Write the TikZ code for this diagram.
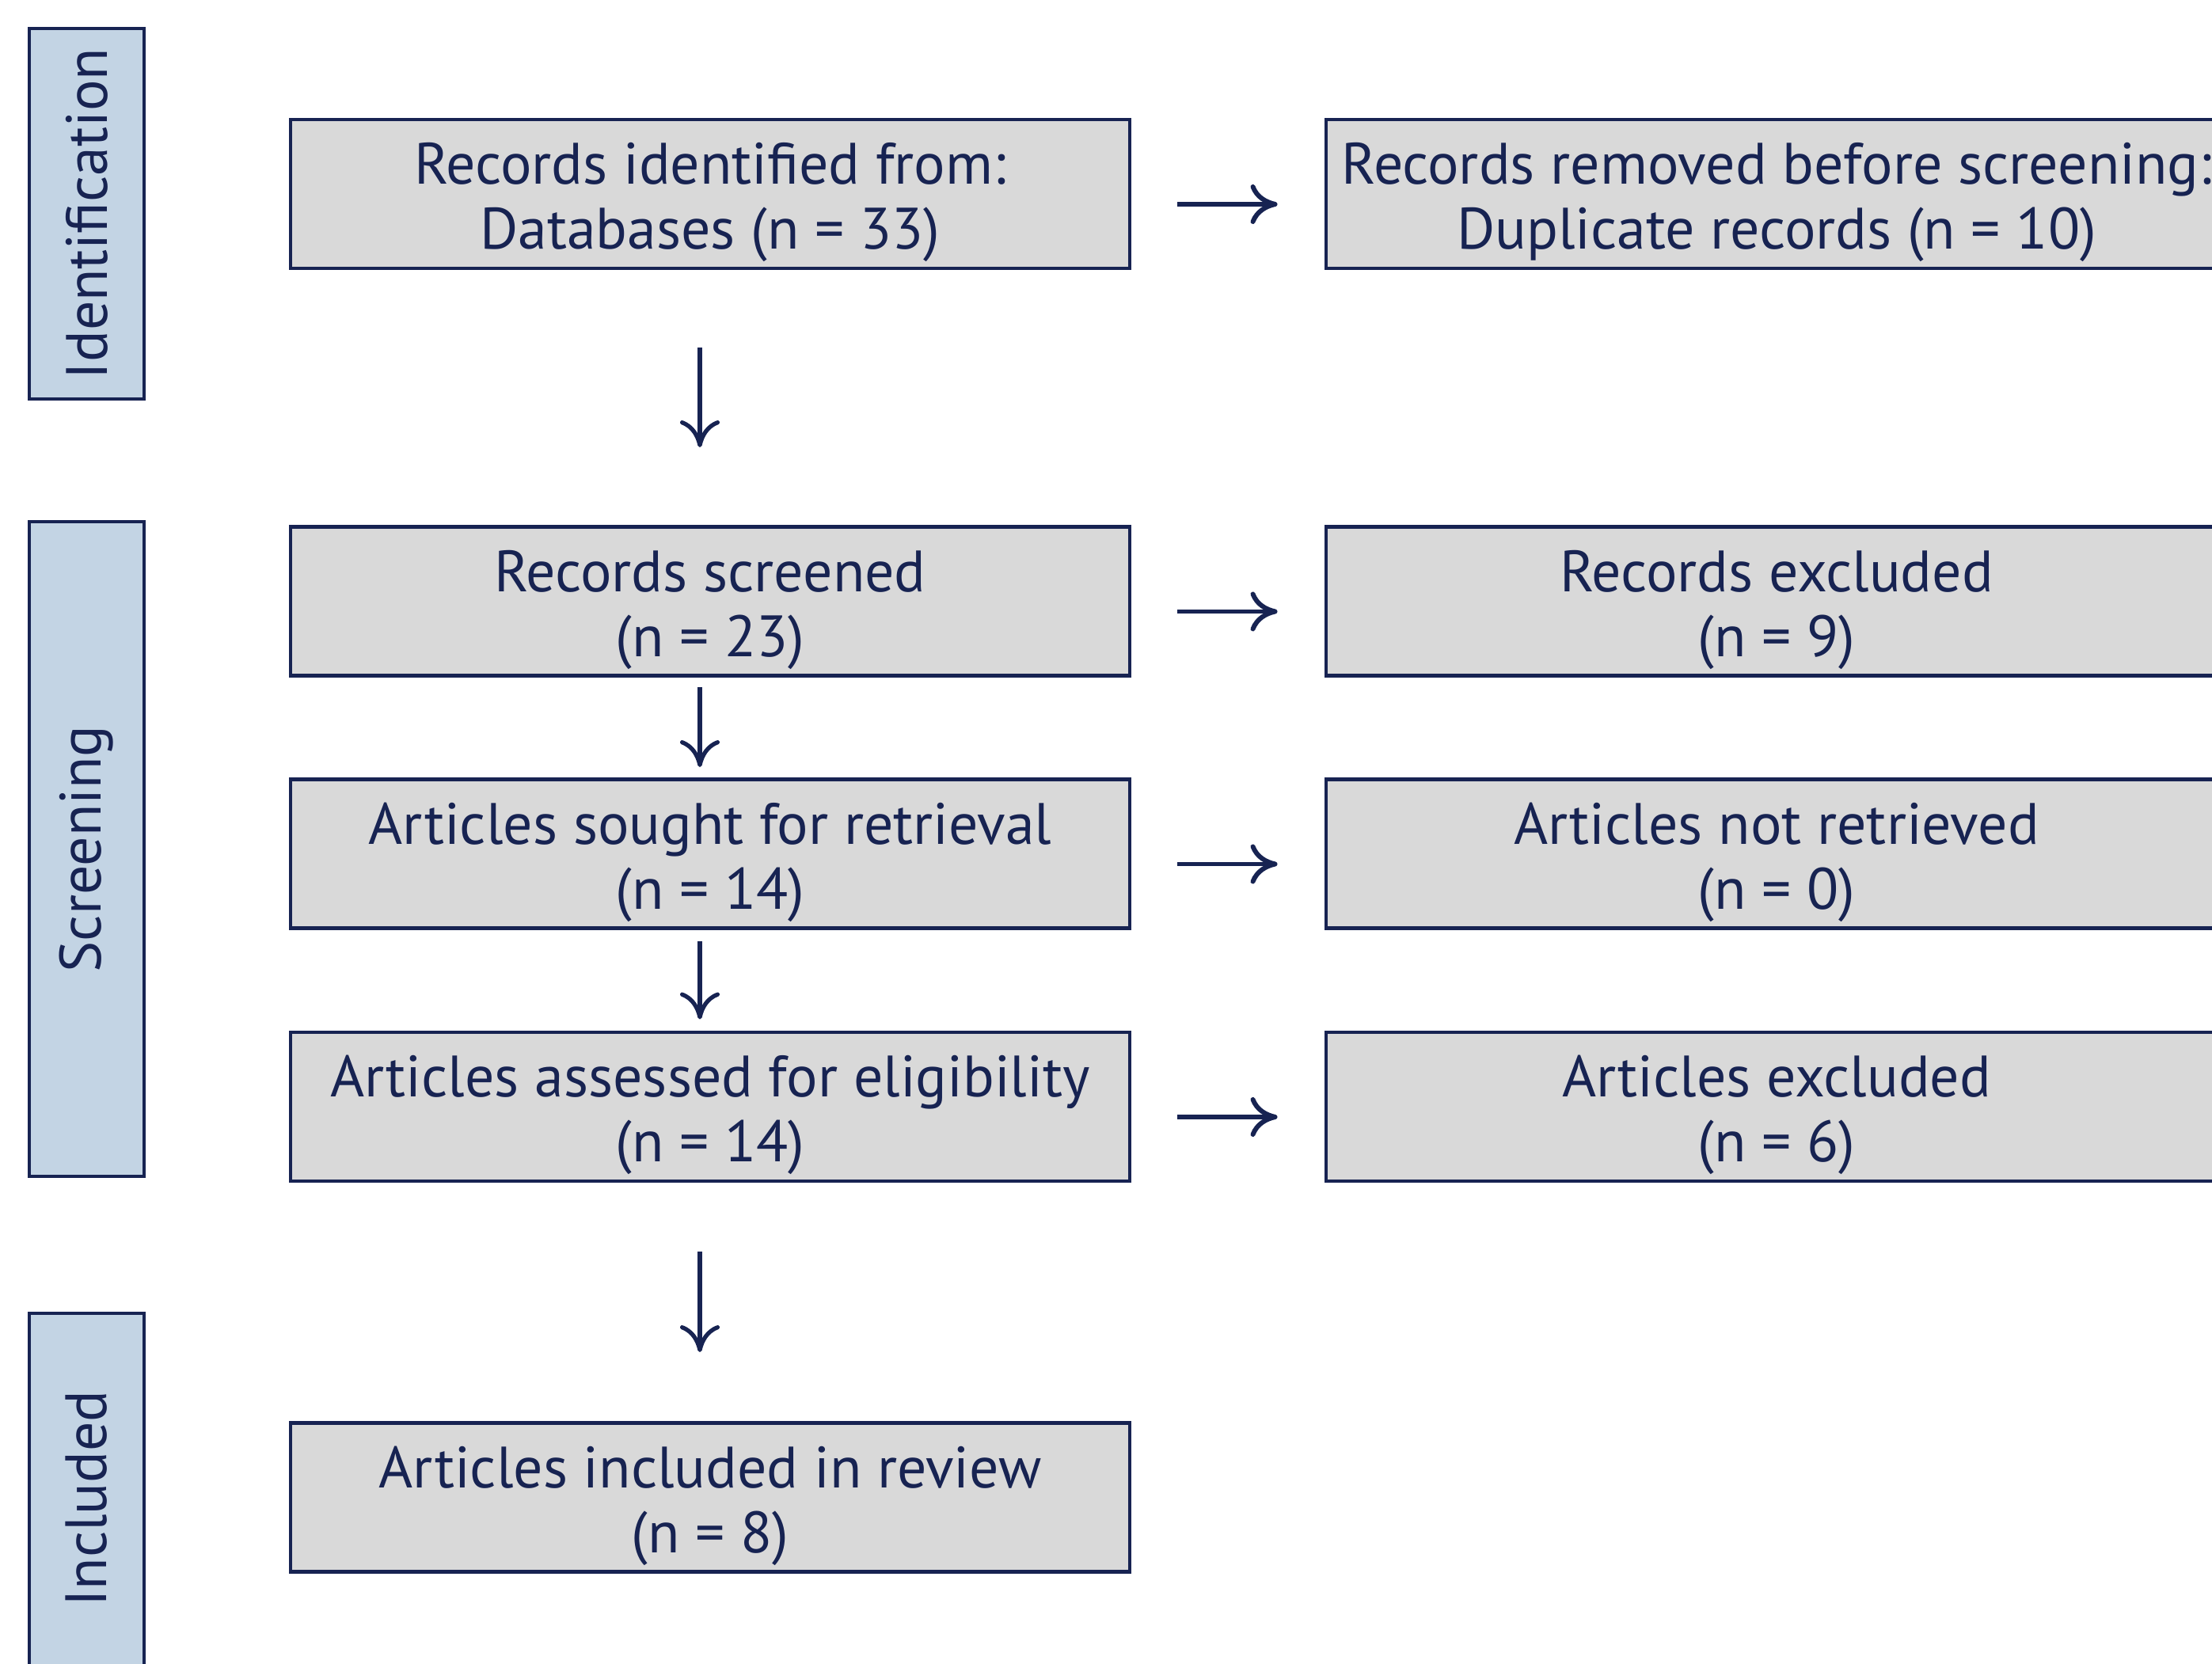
\documentclass[tikz,border=0pt]{standalone}
\usepackage{fontspec}
\setmainfont{PT Sans}
\usetikzlibrary{arrows.meta, positioning}
\definecolor{navy}{RGB}{23,35,82}
\definecolor{boxgrey}{RGB}{217,217,217}
\definecolor{bandblue}{RGB}{195,212,228}
\newcommand{\twolines}[2]{\rule{0pt}{21pt}#1\\ #2}
\tikzset{
  flowbox/.style={draw=navy, line width=1.4pt, fill=boxgrey, text=navy,
    minimum width=10.6cm, minimum height=1.88cm, inner ysep=0pt, align=center,
    font=\fontsize{21}{23.3}\selectfont},
  sidebox/.style={flowbox, minimum width=11.38cm},
  band/.style={draw=navy, line width=1.4pt, fill=bandblue, text=navy,
    minimum width=1.45cm, font=\fontsize{21}{23.3}\selectfont},
  downarrow/.style={draw=navy, line width=1.5pt, -{To[length=3.4mm,width=5mm]}},
  sidearrow/.style={draw=navy, line width=1.7pt, -{To[length=3.4mm,width=5mm]}}
}
\begin{document}
\begin{tikzpicture}
      \useasboundingbox (0,0) rectangle (27.94,21.01);
      \clip (0,0) rectangle (27.94,21.01);
      % phase bands
      \node[band, minimum height=4.68cm] (Ident) at (1.095, 18.31) {};
      \node[rotate=90, text=navy, font=\fontsize{21}{23.3}\selectfont] at (Ident) {Identification};
      \node[band, minimum height=8.27cm] (Screen) at (1.095, 10.285) {};
      \node[rotate=90, text=navy, font=\fontsize{21}{23.3}\selectfont] at (Screen) {Screening};
      \node[band, minimum height=4.68cm] (Incl) at (1.095, 2.08) {};
      \node[rotate=90, text=navy, font=\fontsize{21}{23.3}\selectfont] at (Incl) {Included};

      % main column
      \node[flowbox](Found) at (8.97, 18.56) {\twolines{Records identified from:}{Databases (n = 33)}};
      \node[flowbox](Screened) at (8.97, 13.415) {\twolines{Records screened}{(n = 23)}};
      \node[flowbox](Sought) at (8.97, 10.225) {\twolines{Articles sought for retrieval}{(n = 14)}};
      \node[flowbox](Assessed) at (8.97, 7.03) {\twolines{Articles assessed for eligibility}{(n = 14)}};
      \node[flowbox](Review) at (8.97, 2.095) {\twolines{Articles included in review}{(n = 8)}};

      % side column
      \node[sidebox](Removed) at (22.44, 18.56) {\twolines{Records removed before screening:}{Duplicate records (n = 10)}};
      \node[sidebox](Excluded) at (22.44, 13.415) {\twolines{Records excluded}{(n = 9)}};
      \node[sidebox](NotFound) at (22.44, 10.225) {\twolines{Articles not retrieved}{(n = 0)}};
      \node[sidebox](Rejected) at (22.44, 7.03) {\twolines{Articles excluded}{(n = 6)}};

      \draw[downarrow, shorten <=0.98cm, shorten >=0.98cm] ([xshift=-1.3mm]Found.south) -- ([xshift=-1.3mm]Screened.north);
      \draw[downarrow, shorten <=0.12cm, shorten >=0.13cm] ([xshift=-1.3mm]Screened.south) -- ([xshift=-1.3mm]Sought.north);
      \draw[downarrow, shorten <=0.14cm, shorten >=0.14cm] ([xshift=-1.3mm]Sought.south) -- ([xshift=-1.3mm]Assessed.north);
      \draw[downarrow, shorten <=0.87cm, shorten >=0.87cm] ([xshift=-1.3mm]Assessed.south) -- ([xshift=-1.3mm]Review.north);

      \draw[sidearrow, transform canvas={yshift=-1.3mm}, shorten <=0.58cm, shorten >=0.59cm] (Found) -- (Removed);
      \draw[sidearrow, transform canvas={yshift=-1.3mm}, shorten <=0.58cm, shorten >=0.59cm] (Screened) -- (Excluded);
      \draw[sidearrow, transform canvas={yshift=-1.3mm}, shorten <=0.58cm, shorten >=0.59cm] (Sought) -- (NotFound);
      \draw[sidearrow, transform canvas={yshift=-1.3mm}, shorten <=0.58cm, shorten >=0.59cm] (Assessed) -- (Rejected);
\end{tikzpicture}
\end{document}
